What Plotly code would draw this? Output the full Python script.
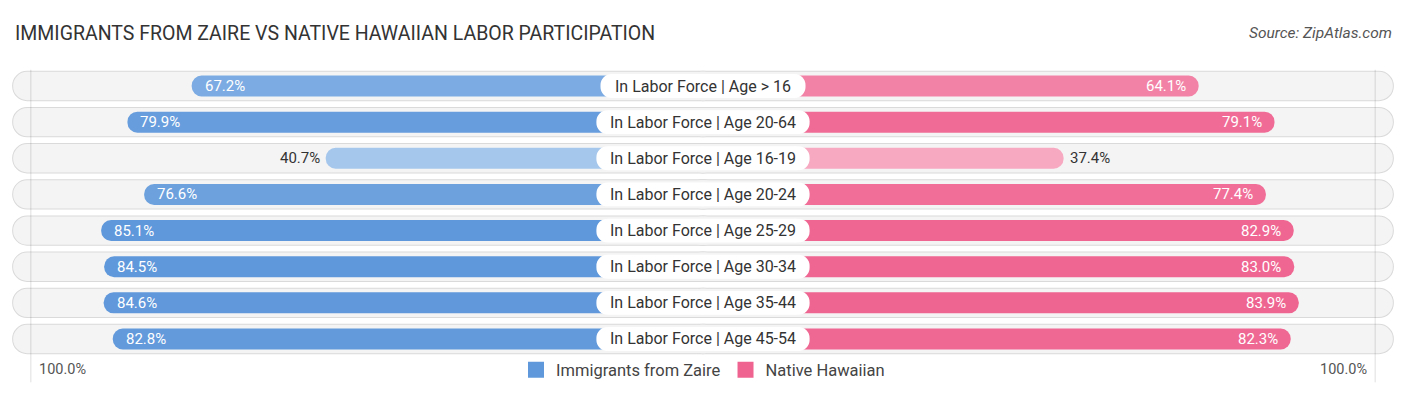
import plotly.graph_objects as go

categories = [
    "In Labor Force | Age > 16",
    "In Labor Force | Age 20-64",
    "In Labor Force | Age 16-19",
    "In Labor Force | Age 20-24",
    "In Labor Force | Age 25-29",
    "In Labor Force | Age 30-34",
    "In Labor Force | Age 35-44",
    "In Labor Force | Age 45-54",
]
zaire = [67.2, 79.9, 40.7, 76.6, 85.1, 84.5, 84.6, 82.8]
hawaiian = [64.1, 79.1, 37.4, 77.4, 82.9, 83.0, 83.9, 82.3]
series_names = ["Immigrants from Zaire", "Native Hawaiian"]
axis_label = "100.0%"

TITLE = "IMMIGRANTS FROM ZAIRE VS NATIVE HAWAIIAN LABOR PARTICIPATION"
SOURCE = "Source: ZipAtlas.com"

# layout constants (axis units: percent)
G = 33.9          # gap from centre to the zero of each side
TRACK = 136.6     # half-length of background track
GUIDE = G + 99.0  # position of the faint vertical guide lines
X_HALF = 139.0    # half of the x range
PX_PER_UNIT = 1406 / (2 * X_HALF)
FONT = "Roboto"

BLUE_DARK = (95, 152, 219)
BLUE_LIGHT = (175, 205, 238)
PINK_DARK = (239, 99, 144)
PINK_LIGHT = (247, 173, 197)


def shade(v, light, dark):
    t = max(0.0, min(1.0, (v - 35.0) / 50.0))
    c = [round(l + (d - l) * t) for l, d in zip(light, dark)]
    return "rgb(%d,%d,%d)" % tuple(c)


n = len(categories)
ys = list(range(n))
one_px = 1 / PX_PER_UNIT

fig = go.Figure()

# background tracks: an outer "border" layer and an inner fill layer,
# each made of two overlapping halves rounded at their outer ends
for colour, half, w, rad in (("#dadada", TRACK, 0.84, 15), ("#f4f4f4", TRACK - one_px, 0.785, 14)):
    for sign in (-1, 1):
        fig.add_trace(go.Bar(
            y=ys, x=[sign * (half + 3)] * n, base=-sign * 3, orientation="h", width=w,
            marker=dict(color=colour, line=dict(width=0), cornerradius=rad),
            showlegend=False, hoverinfo="skip"))

# data bars
fig.add_trace(go.Bar(
    y=ys, x=[-(G + v) for v in zaire], base=0, orientation="h", width=0.58,
    marker=dict(color=[shade(v, BLUE_LIGHT, BLUE_DARK) for v in zaire], cornerradius=10,
                line=dict(width=0)),
    showlegend=False, hoverinfo="skip"))
fig.add_trace(go.Bar(
    y=ys, x=[(G + v) for v in hawaiian], base=0, orientation="h", width=0.58,
    marker=dict(color=[shade(v, PINK_LIGHT, PINK_DARK) for v in hawaiian], cornerradius=10,
                line=dict(width=0)),
    showlegend=False, hoverinfo="skip"))

# centre label pills (two overlapping halves, rounded at outer ends)
half_w = [len(c) * 8.2 / 2 / PX_PER_UNIT for c in categories]
for sign in (-1, 1):
    fig.add_trace(go.Bar(
        y=ys, x=[sign * (h + 2) for h in half_w], base=-sign * 2, orientation="h", width=0.66,
        marker=dict(color="white", cornerradius=12, line=dict(width=0)),
        showlegend=False, hoverinfo="skip"))

# legend entries
fig.add_trace(go.Scatter(y=[None], x=[None], name=series_names[0], mode="markers",
                         marker=dict(color="rgb(%d,%d,%d)" % BLUE_DARK, symbol="square", size=16)))
fig.add_trace(go.Scatter(y=[None], x=[None], name=series_names[1], mode="markers",
                         marker=dict(color="rgb(%d,%d,%d)" % PINK_DARK, symbol="square", size=16)))

ann = []
for i, c in enumerate(categories):
    ann.append(dict(x=0, y=i, xref="x", yref="y", text=c, showarrow=False,
                    font=dict(family=FONT, size=16, color="#333333"),
                    xanchor="center", yanchor="middle"))
    v = zaire[i]
    inside = v > 55
    ann.append(dict(x=-(G + v), y=i, xref="x", yref="y", text=f"{v:.1f}%", showarrow=False,
                    font=dict(family=FONT, size=15, color="white" if inside else "#333333"),
                    xanchor="left" if inside else "right", xshift=11 if inside else -4,
                    yanchor="middle"))
    v = hawaiian[i]
    inside = v > 55
    ann.append(dict(x=G + v, y=i, xref="x", yref="y", text=f"{v:.1f}%", showarrow=False,
                    font=dict(family=FONT, size=15, color="white" if inside else "#333333"),
                    xanchor="right" if inside else "left", xshift=-11 if inside else 4,
                    yanchor="middle"))

ann.append(dict(x=-GUIDE, y=7.85, xref="x", yref="y", text=axis_label, showarrow=False,
                font=dict(family=FONT, size=14.5, color="#555555"),
                xanchor="left", xshift=6, yanchor="middle"))
ann.append(dict(x=GUIDE, y=7.85, xref="x", yref="y", text=axis_label, showarrow=False,
                font=dict(family=FONT, size=14.5, color="#555555"),
                xanchor="right", xshift=-6, yanchor="middle"))
ann.append(dict(x=13, y=33, xref="paper", yref="paper", text=TITLE, showarrow=False,
                font=dict(family=FONT, size=19.5, color="#333333"),
                xanchor="left", yanchor="middle"))
ann.append(dict(x=1394, y=33, xref="paper", yref="paper", text="<i>" + SOURCE + "</i>",
                showarrow=False, font=dict(family=FONT, size=15.5, color="#555555"),
                xanchor="right", yanchor="middle"))

# convert paper-pixel positions for title/source
for a in ann:
    if a.get("xref") == "paper":
        a["x"] = a["x"] / 1406
        a["y"] = 1 - a["y"] / 395

shapes = []
for sign in (-1, 1):
    shapes.append(dict(type="line", xref="x", yref="y",
                       x0=sign * GUIDE, x1=sign * GUIDE, y0=-0.45, y1=8.2,
                       line=dict(color="rgba(0,0,0,0.13)", width=1), layer="above"))

fig.update_layout(
    width=1406, height=395,
    margin=dict(l=0, r=0, t=0, b=0),
    paper_bgcolor="white", plot_bgcolor="white",
    barmode="overlay",
    xaxis=dict(range=[-X_HALF, X_HALF], visible=False, fixedrange=True),
    yaxis=dict(range=[8.55, -2.38], visible=False, fixedrange=True),
    annotations=ann,
    shapes=shapes,
    showlegend=True,
    legend=dict(orientation="h", x=0.5, xanchor="center", y=1 - 370 / 395, yanchor="middle",
                font=dict(family=FONT, size=16.5, color="#444444"),
                bgcolor="rgba(0,0,0,0)", itemwidth=30, traceorder="normal"),
    font=dict(family=FONT),
)

fig.write_html("out.html", config={"displayModeBar": False},
               post_script="document.body.style.margin='0';document.body.style.overflow='hidden';")
